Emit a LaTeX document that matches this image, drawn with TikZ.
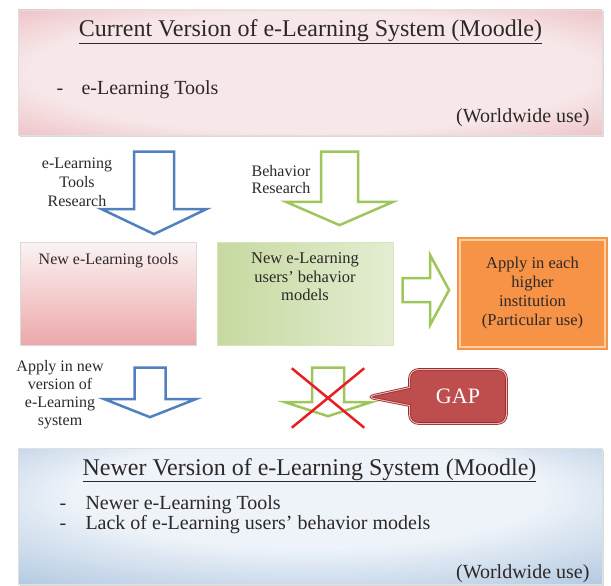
\documentclass[tikz,border=0pt]{standalone}
\usepackage{fontspec}
\setmainfont{Liberation Serif}
\usetikzlibrary{shapes.arrows,shapes.callouts,shapes.misc,shadows}

\definecolor{pinkin}{RGB}{247,231,233}
\definecolor{pinkout}{RGB}{226,150,156}
\definecolor{bluein}{RGB}{238,243,249}
\definecolor{blueout}{RGB}{140,174,210}
\definecolor{arrblue}{RGB}{82,128,190}
\definecolor{arrgreen}{RGB}{158,198,92}
\definecolor{toolstop}{RGB}{251,243,243}
\definecolor{toolsbot}{RGB}{236,168,170}
\definecolor{modeldark}{RGB}{198,217,160}
\definecolor{modellight}{RGB}{228,237,210}
\definecolor{orfill}{RGB}{247,147,70}
\definecolor{orline}{RGB}{252,208,165}
\definecolor{gapred}{RGB}{190,78,78}
\definecolor{gapline}{RGB}{242,180,180}
\definecolor{gapdark}{RGB}{150,45,45}
\definecolor{crossred}{RGB}{232,30,35}
\definecolor{inktext}{RGB}{45,40,40}

\pgfdeclareradialshading{pinkglow}{\pgfpoint{0bp}{0bp}}{color(0bp)=(pinkin); color(24bp)=(pinkin); color(50bp)=(pinkout)}
\pgfdeclareradialshading{blueglow}{\pgfpoint{0bp}{14bp}}{color(0bp)=(bluein); color(20bp)=(bluein); color(50bp)=(blueout)}

\tikzset{
    sysbox/.style={draw=black!12, shade, minimum width=584, drop shadow={opacity=0.3,shadow xshift=1.5pt,shadow yshift=-1.5pt}},
    resultbox/.style={draw=#1, minimum width=176, minimum height=103},
    orbox/.style={fill=orfill, draw=orfill, double=orline, double distance=1.2pt, line width=2.5pt, minimum width=145, minimum height=107, align=center, text=inktext, font=\fontsize{16.5}{19}\selectfont},
    blockarrow/.style={single arrow, line width=2.5pt, inner xsep=0pt, minimum width=0pt, anchor=tip},
    bluearrow/.style={blockarrow, draw=arrblue, fill=white},
    greenarrow/.style={blockarrow, draw=arrgreen, fill=white},
    pointdown/.style={rotate=-90},
    lbl/.style={align=center, text=inktext, font=\fontsize{16}{#1}\selectfont},
    title/.style={anchor=base, text=inktext, font=\fontsize{24}{26}\selectfont},
    bullet/.style={anchor=base west, text=inktext, font=\fontsize{20}{20}\selectfont},
}

\begin{document}
\begin{tikzpicture}[x=1pt,y=-1pt]
    \useasboundingbox (0,0) rectangle (611,586);

    \node[sysbox, shading=pinkglow, minimum height=125] (current) at (310,72.5) {};
    \node[title] (curtitle) at (310.5,37) {\underline{Current Version of e-Learning System (Moodle)}};
    \node[bullet] (curtools) at (53,95) {\makebox[25pt][l]{-}e-Learning Tools};
    \node[bullet, anchor=base east] (curuse) at (593,122) {(Worldwide use)};

    \node[bluearrow, pointdown, inner ysep=18.75pt, single arrow head extend=32.5pt, single arrow tip angle=129, minimum height=82.5] (toolsarrow) at (154,235.5) {};
    \node[lbl=19] (toolslbl) at (77,182) {e-Learning\\Tools\\Research};
    \node[greenarrow, pointdown, inner ysep=17.25pt, single arrow head extend=35pt, single arrow tip angle=133, minimum height=73.5] (behavarrow) at (339.5,226.5) {};
    \node[lbl=17] (behavlbl) at (281,180) {Behavior\\Research};

    \node[resultbox=black!15, top color=toolstop, bottom color=toolsbot] (newtools) at (108.5,293.5) {};
    \node[lbl=19, anchor=base] (newtoolstxt) at (108.5,264) {New e-Learning tools};
    \node[resultbox=modeldark!70, left color=modeldark, right color=modellight] (models) at (305.5,293.5) {};
    \node[lbl=18.5, font=\fontsize{16.5}{18.5}\selectfont] (modelstxt) at (305,277) {New e-Learning\\users' behavior\\models};

    \node[greenarrow, inner ysep=10.75pt, single arrow head extend=23pt, single arrow tip angle=123, minimum height=46.5] (applyarrow) at (450.5,290) {};
    \node[orbox] (apply) at (532.5,293.5) {Apply in each\\higher\\institution\\(Particular use)};

    \node[lbl=18] (newverlbl) at (60,395) {Apply in new\\version of\\e-Learning\\system};
    \node[bluearrow, pointdown, inner ysep=14.25pt, single arrow head extend=30.5pt, single arrow tip angle=137, minimum height=49.5] (newverarrow) at (150,418.5) {};
    \node[greenarrow, pointdown, inner ysep=14.75pt, single arrow head extend=27.5pt, single arrow tip angle=144, minimum height=48.5] (lackarrow) at (328,417.5) {};
    \node[cross out, draw=crossred, line width=2.5pt, minimum width=70, minimum height=57] (nomodels) at (328,398) {};
    \node[rectangle callout, rounded corners=9pt, fill=gapred, draw=gapdark, double=gapline, double distance=1pt, line width=0.8pt, minimum width=97, minimum height=54, callout absolute pointer={(366,397)}, callout pointer width=18pt, text=white, font=\fontsize{22}{24}\selectfont] (gap) at (458,396.5) {GAP};

    \node[sysbox, shading=blueglow, minimum height=136] (newer) at (310,516) {};
    \node[title] (newtitle) at (309.5,475) {\underline{Newer Version of e-Learning System (Moodle)}};
    \node[bullet] (newtoolsitem) at (56,509) {\makebox[26pt][l]{-}Newer e-Learning Tools};
    \node[bullet] (lackitem) at (56,529) {\makebox[26pt][l]{-}Lack of e-Learning users' behavior models};
    \node[bullet, anchor=base east] (newuse) at (593,578) {(Worldwide use)};
\end{tikzpicture}
\end{document}
